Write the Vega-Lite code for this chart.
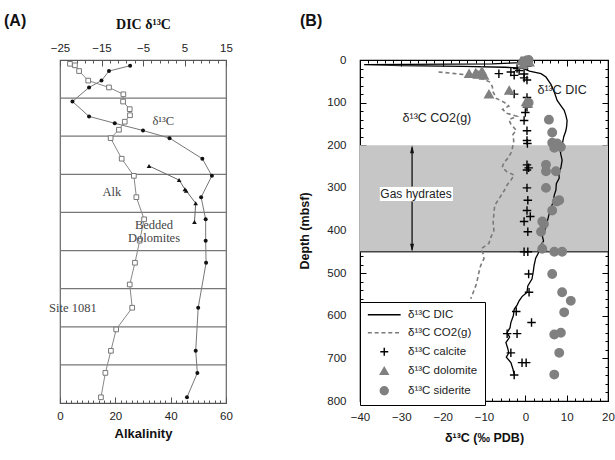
{
  "$schema": "https://vega.github.io/schema/vega-lite/v6.json",
  "padding": {"left": 3, "top": 12, "right": 5, "bottom": 5},
  "spacing": 65,
  "resolve": {"legend": {"shape": "independent", "fill": "independent", "stroke": "independent"}},
  "config": {
    "font": "Liberation Sans",
    "view": {"stroke": null},
    "axis": {"labelFont": "Liberation Sans", "labelFontSize": 11.5, "labelColor": "#222", "titleFont": "Liberation Sans", "titleFontWeight": "bold", "titleFontSize": 12.5, "titleColor": "#111", "grid": false, "domainColor": "#000", "tickColor": "#000", "ticks": true, "tickOpacity": 1, "tickWidth": 1, "labelOverlap": false, "labelFlush": false}
  },
  "hconcat": [
    {
      "width": 166,
      "height": 343,
      "title": {"text": "(A)", "anchor": "start", "frame": "group", "dx": -56, "offset": -12, "fontSize": 16, "fontWeight": "bold", "font": "Liberation Sans", "color": "#111"},
      "view": {"stroke": "#666", "strokeWidth": 1.2},
      "resolve": {"scale": {"x": "independent"}},
      "layer": [
        {
          "data": {"values": [{"u": 1}, {"u": 2}, {"u": 3}, {"u": 4}, {"u": 5}, {"u": 6}, {"u": 7}, {"u": 8}]},
          "mark": {"type": "rule", "color": "#777", "strokeWidth": 1.2},
          "encoding": {"y": {"field": "u", "type": "quantitative", "scale": {"domain": [0, 9], "reverse": true, "nice": false}, "axis": null}}
        },
        {
          "data": {"values": [
            {"u": 0.10, "alk": 3.6}, {"u": 0.14, "alk": 5.4}, {"u": 0.29, "alk": 6.9}, {"u": 0.54, "alk": 10.2}, {"u": 0.72, "alk": 17.7}, {"u": 0.90, "alk": 22.9}, {"u": 1.09, "alk": 22.8}, {"u": 1.29, "alk": 25.2}, {"u": 1.45, "alk": 25.3}, {"u": 1.62, "alk": 23.4}, {"u": 1.83, "alk": 21.3}, {"u": 2.05, "alk": 18.3}, {"u": 2.59, "alk": 22.3}, {"u": 3.04, "alk": 26.7}, {"u": 3.60, "alk": 27.6}, {"u": 4.18, "alk": 30.4}, {"u": 4.74, "alk": 28.8}, {"u": 5.32, "alk": 27.1}, {"u": 5.89, "alk": 25.2}, {"u": 6.50, "alk": 26.1}, {"u": 7.07, "alk": 20.3}, {"u": 7.63, "alk": 18.4}, {"u": 8.21, "alk": 16.4}, {"u": 8.85, "alk": 14.8}
          ]},
          "mark": {"type": "line", "color": "#888", "strokeWidth": 1, "point": {"shape": "square", "filled": true, "fill": "white", "stroke": "#777", "strokeWidth": 1, "size": 22}},
          "encoding": {
            "x": {"field": "alk", "type": "quantitative", "scale": {"domain": [0, 60], "nice": false},
              "axis": {"orient": "bottom", "title": "Alkalinity", "titleFontSize": 13, "titlePadding": 3, "labelOverlap": false, "values": [0,2,4,6,8,10,12,14,16,18,20,22,24,26,28,30,32,34,36,38,40,42,44,46,48,50,52,54,56,58,60], "labelExpr": "datum.value % 20 === 0 ? datum.label : ''", "tickSize": {"condition": {"test": "datum.value % 20 === 0", "value": -6}, "value": -3}, "labelPadding": 13, "domainColor": "#555", "tickColor": "#555"}},
            "y": {"field": "u", "type": "quantitative", "sort": null, "scale": {"domain": [0, 9], "reverse": true, "nice": false}, "axis": null},
            "order": {"field": "u"}
          }
        },
        {
          "data": {"values": [{"v": -25, "u": 0}]},
          "mark": {"type": "point", "opacity": 0},
          "encoding": {
            "x": {"field": "v", "type": "quantitative", "scale": {"domain": [-25, 15], "nice": false},
              "axis": {"orient": "top", "title": "DIC δ¹³C", "titleFont": "Liberation Serif", "titleFontSize": 14, "titlePadding": 8, "labelOverlap": false, "values": [-25,-23,-21,-19,-17,-15,-13,-11,-9,-7,-5,-3,-1,1,3,5,7,9,11,13,15], "labelExpr": "(datum.value + 25) % 10 === 0 ? datum.label : ''", "tickSize": {"condition": {"test": "(datum.value + 25) % 10 === 0", "value": -6}, "value": -3}, "labelPadding": 13, "domainColor": "#555", "tickColor": "#555"}},
            "y": {"field": "u", "type": "quantitative", "scale": {"domain": [0, 9], "reverse": true, "nice": false}, "axis": null}
          }
        },
        {
          "layer": [
            {
              "data": {"values": [
                {"u": 0.15, "v": -8.1}, {"u": 0.29, "v": -13.2}, {"u": 0.54, "v": -15.0}, {"u": 0.72, "v": -18.0}, {"u": 1.09, "v": -22.0}, {"u": 1.48, "v": -18.0}, {"u": 1.66, "v": -11.8}, {"u": 1.85, "v": -5.0}, {"u": 2.05, "v": 1.4}, {"u": 2.59, "v": 9.3}, {"u": 3.04, "v": 11.6}, {"u": 3.60, "v": 9.0}, {"u": 4.18, "v": 10.1}, {"u": 4.74, "v": 10.1}, {"u": 5.32, "v": 10.2}, {"u": 6.50, "v": 8.3}, {"u": 7.63, "v": 7.7}, {"u": 8.21, "v": 8.1}, {"u": 8.85, "v": 5.6}
              ]},
              "mark": {"type": "line", "color": "#777", "strokeWidth": 1, "point": {"shape": "circle", "filled": true, "color": "#111", "size": 16}},
              "encoding": {
                "x": {"field": "v", "type": "quantitative", "scale": {"domain": [-25, 15], "nice": false}, "axis": null},
                "y": {"field": "u", "type": "quantitative", "scale": {"domain": [0, 9], "reverse": true, "nice": false}, "axis": null},
                "order": {"field": "u"}
              }
            },
            {
              "data": {"values": [
                {"u": 2.78, "v": -3.55}, {"u": 3.15, "v": 3.7}, {"u": 3.39, "v": 5.1}, {"u": 3.43, "v": 5.4}, {"u": 3.76, "v": 7.7}, {"u": 4.25, "v": 7.4}
              ]},
              "mark": {"type": "line", "color": "#666", "strokeWidth": 1, "point": {"shape": "triangle-up", "filled": true, "color": "#111", "size": 22}},
              "encoding": {
                "x": {"field": "v", "type": "quantitative", "scale": {"domain": [-25, 15], "nice": false}, "axis": null},
                "y": {"field": "u", "type": "quantitative", "scale": {"domain": [0, 9], "reverse": true, "nice": false}, "axis": null},
                "order": {"field": "u"}
              }
            },
            {
              "data": {"values": [
                {"u": 1.59, "v": -0.1, "t": "δ¹³C", "a": "center"},
                {"u": 3.46, "v": -12.5, "t": "Alk", "a": "center"},
                {"u": 4.34, "v": -2.35, "t": "Bedded", "a": "left"},
                {"u": 4.68, "v": -2.35, "t": "Dolomites", "a": "left"},
                {"u": 6.50, "v": -21.9, "t": "Site 1081", "a": "left"}
              ]},
              "mark": {"type": "text", "font": "Liberation Serif", "fontSize": 12.5, "color": "#444", "baseline": "middle"},
              "encoding": {
                "x": {"field": "v", "type": "quantitative", "scale": {"domain": [-25, 15], "nice": false}, "axis": null},
                "y": {"field": "u", "type": "quantitative", "scale": {"domain": [0, 9], "reverse": true, "nice": false}, "axis": null},
                "text": {"field": "t"},
                "align": {"field": "a", "type": "nominal", "scale": null}
              }
            }
          ]
        }
      ]
    },
    {
      "width": 248,
      "height": 341,
      "title": {"text": "(B)", "anchor": "start", "frame": "group", "dx": -60, "offset": 24, "fontSize": 16, "fontWeight": "bold", "font": "Liberation Sans", "color": "#111"},
      "view": {"stroke": "#000", "strokeWidth": 1.2},
      "resolve": {"scale": {"x": "independent", "y": "independent"}},
      "layer": [
        {
          "layer": [
            {
              "data": {"values": [{"d": 200, "d2": 450}]},
              "mark": {"type": "rect", "color": "#c6c6c6"},
              "encoding": {
                "y": {"field": "d", "type": "quantitative", "scale": {"domain": [0, 800], "reverse": true, "nice": false}, "axis": null},
                "y2": {"field": "d2"}
              }
            },
            {
              "data": {"values": [{"d": 450}]},
              "mark": {"type": "rule", "color": "#444", "strokeWidth": 1.5},
              "encoding": {
                "y": {"field": "d", "type": "quantitative", "scale": {"domain": [0, 800], "reverse": true, "nice": false}, "axis": null}
              }
            },
            {
              "data": {"values": [
                {"d": 28, "v": -21}, {"d": 31, "v": -18}, {"d": 34, "v": -15}, {"d": 38, "v": -12}, {"d": 44, "v": -10.5}, {"d": 52, "v": -8.5}, {"d": 62, "v": -8}, {"d": 75, "v": -7.8}, {"d": 90, "v": -7}, {"d": 100, "v": -5}, {"d": 108, "v": -4}, {"d": 116, "v": -5.5}, {"d": 125, "v": -4.5}, {"d": 132, "v": -2}, {"d": 140, "v": -4}, {"d": 150, "v": -3.5}, {"d": 165, "v": -2.2}, {"d": 175, "v": -3}, {"d": 190, "v": -2.8}, {"d": 200, "v": -3}, {"d": 215, "v": -3.3}, {"d": 230, "v": -4.2}, {"d": 241, "v": -5.2}, {"d": 252, "v": -5.6}, {"d": 262, "v": -4.5}, {"d": 270, "v": -2.7}, {"d": 282, "v": -3.5}, {"d": 293, "v": -4.4}, {"d": 308, "v": -5.2}, {"d": 320, "v": -6}, {"d": 341, "v": -7.4}, {"d": 360, "v": -7.6}, {"d": 380, "v": -7.8}, {"d": 400, "v": -7.6}, {"d": 415, "v": -8.3}, {"d": 430, "v": -8.8}, {"d": 443, "v": -10.7}, {"d": 455, "v": -10.2}, {"d": 466, "v": -10}, {"d": 482, "v": -10.8}, {"d": 497, "v": -11.2}, {"d": 515, "v": -11.6}, {"d": 530, "v": -12}, {"d": 545, "v": -12.6}, {"d": 560, "v": -13.2}
              ]},
              "mark": {"type": "line", "color": "#7a7a7a", "strokeWidth": 1.6, "strokeDash": [4, 3]},
              "encoding": {
                "x": {"field": "v", "type": "quantitative", "scale": {"domain": [-40, 20], "nice": false}, "axis": null},
                "y": {"field": "d", "type": "quantitative", "scale": {"domain": [0, 800], "reverse": true, "nice": false}, "axis": null},
                "order": {"field": "d"}
              }
            },
            {
              "data": {"values": [
                {"d": 0, "v": -0.5}, {"d": 6, "v": -1}, {"d": 9, "v": -8}, {"d": 11, "v": -39}, {"d": 13, "v": -30}, {"d": 15, "v": -15}, {"d": 17, "v": -5}, {"d": 19, "v": -1}, {"d": 22, "v": 0}, {"d": 26, "v": 1}, {"d": 32, "v": 3.8}, {"d": 40, "v": 5}, {"d": 57, "v": 6.2}, {"d": 75, "v": 7}, {"d": 95, "v": 7.7}, {"d": 110, "v": 8.8}, {"d": 118, "v": 9.4}, {"d": 130, "v": 9.8}, {"d": 142, "v": 10.1}, {"d": 155, "v": 10}, {"d": 166, "v": 9.8}, {"d": 180, "v": 9.3}, {"d": 199, "v": 8.9}, {"d": 210, "v": 8.4}, {"d": 222, "v": 8.6}, {"d": 235, "v": 8.9}, {"d": 253, "v": 8.6}, {"d": 265, "v": 8.1}, {"d": 277, "v": 8.2}, {"d": 290, "v": 7.5}, {"d": 305, "v": 7.4}, {"d": 317, "v": 7.0}, {"d": 330, "v": 6.8}, {"d": 348, "v": 6.2}, {"d": 360, "v": 5.8}, {"d": 379, "v": 5.3}, {"d": 395, "v": 4.9}, {"d": 412, "v": 4.1}, {"d": 425, "v": 4.4}, {"d": 440, "v": 3.3}, {"d": 450, "v": 3.3}, {"d": 465, "v": 2.5}, {"d": 483, "v": 2.1}, {"d": 498, "v": 1.9}, {"d": 514, "v": 1.6}, {"d": 530, "v": 0.6}, {"d": 545, "v": 0.4}, {"d": 555, "v": -0.8}, {"d": 565, "v": -1.5}, {"d": 575, "v": -2}, {"d": 585, "v": -2.7}, {"d": 600, "v": -2.9}, {"d": 616, "v": -3.5}, {"d": 628, "v": -3.7}, {"d": 640, "v": -4.4}, {"d": 650, "v": -3.8}, {"d": 663, "v": -4.7}, {"d": 675, "v": -4.3}, {"d": 687, "v": -4.0}, {"d": 697, "v": -4.6}, {"d": 710, "v": -3.5}, {"d": 725, "v": -3.0}, {"d": 738, "v": -2.7}
              ]},
              "mark": {"type": "line", "color": "#000", "strokeWidth": 1.3},
              "encoding": {
                "x": {"field": "v", "type": "quantitative", "scale": {"domain": [-40, 20], "nice": false}, "axis": null},
                "y": {"field": "d", "type": "quantitative", "scale": {"domain": [0, 800], "reverse": true, "nice": false}, "axis": null},
                "order": {"field": "d"}
              }
            },
            {
              "data": {"values": [{"v1": -35.2, "v2": -17.5, "d1": 298, "d2": 331}]},
              "mark": {"type": "rect", "color": "white"},
              "encoding": {
                "x": {"field": "v1", "type": "quantitative", "scale": {"domain": [-40, 20], "nice": false}, "axis": null},
                "x2": {"field": "v2"},
                "y": {"field": "d1", "type": "quantitative", "scale": {"domain": [0, 800], "reverse": true, "nice": false}, "axis": null},
                "y2": {"field": "d2"}
              }
            },
            {
              "data": {"values": [{"v": -27.4, "d1": 205, "d2": 297}, {"v": -27.4, "d1": 332, "d2": 445}]},
              "mark": {"type": "rule", "color": "#111", "strokeWidth": 1.3},
              "encoding": {
                "x": {"field": "v", "type": "quantitative", "scale": {"domain": [-40, 20], "nice": false}, "axis": null},
                "y": {"field": "d1", "type": "quantitative", "scale": {"domain": [0, 800], "reverse": true, "nice": false}, "axis": null},
                "y2": {"field": "d2"}
              }
            },
            {
              "data": {"values": [{"v": -27.4, "d": 209.5}]},
              "mark": {"type": "point", "filled": true, "color": "#111", "size": 64, "opacity": 1, "shape": "M0,-1L0.5,1L-0.5,1Z"},
              "encoding": {
                "x": {"field": "v", "type": "quantitative", "scale": {"domain": [-40, 20], "nice": false}, "axis": null},
                "y": {"field": "d", "type": "quantitative", "scale": {"domain": [0, 800], "reverse": true, "nice": false}, "axis": null}
              }
            },
            {
              "data": {"values": [{"v": -27.4, "d": 440.5}]},
              "mark": {"type": "point", "filled": true, "color": "#111", "size": 64, "opacity": 1, "shape": "M0,1L0.5,-1L-0.5,-1Z"},
              "encoding": {
                "x": {"field": "v", "type": "quantitative", "scale": {"domain": [-40, 20], "nice": false}, "axis": null},
                "y": {"field": "d", "type": "quantitative", "scale": {"domain": [0, 800], "reverse": true, "nice": false}, "axis": null}
              }
            },
            {
              "data": {"values": [
                {"v": -26.45, "d": 315, "t": "Gas hydrates", "a": "center", "fs": 12},
                {"v": 8.9, "d": 71, "t": "δ¹³C DIC", "a": "left", "fs": 12.5},
                {"v": -21.4, "d": 135, "t": "δ¹³C CO2(g)", "a": "left", "fs": 12.5}
              ]},
              "mark": {"type": "text", "font": "Liberation Sans", "color": "#222", "baseline": "middle"},
              "encoding": {
                "x": {"field": "v", "type": "quantitative", "scale": {"domain": [-40, 20], "nice": false}, "axis": null},
                "y": {"field": "d", "type": "quantitative", "scale": {"domain": [0, 800], "reverse": true, "nice": false}, "axis": null},
                "text": {"field": "t"},
                "align": {"field": "a", "type": "nominal", "scale": null},
                "size": {"field": "fs", "type": "quantitative", "scale": null}
              }
            },
            {
              "data": {"values": [
                {"s": "calcite", "d": 3, "v": 0}, {"s": "calcite", "d": 8, "v": -1}, {"s": "calcite", "d": 14, "v": 0.5}, {"s": "calcite", "d": 20, "v": -2}, {"s": "calcite", "d": 25, "v": -1.5}, {"s": "calcite", "d": 28, "v": -3.5}, {"s": "calcite", "d": 32, "v": -6.4}, {"s": "calcite", "d": 36, "v": -2.7}, {"s": "calcite", "d": 33, "v": -0.3}, {"s": "calcite", "d": 42, "v": -0.3}, {"s": "calcite", "d": 47, "v": 0.4}, {"s": "calcite", "d": 80, "v": -2.7}, {"s": "calcite", "d": 88, "v": 0.4}, {"s": "calcite", "d": 111, "v": 0.4}, {"s": "calcite", "d": 123, "v": 0.0}, {"s": "calcite", "d": 142, "v": -0.3}, {"s": "calcite", "d": 166, "v": 0.4}, {"s": "calcite", "d": 189, "v": 0.4}, {"s": "calcite", "d": 196, "v": 0.5}, {"s": "calcite", "d": 246, "v": 0.4}, {"s": "calcite", "d": 253, "v": 0.8}, {"s": "calcite", "d": 258, "v": 0.4}, {"s": "calcite", "d": 300, "v": 0.4}, {"s": "calcite", "d": 329, "v": 0.6}, {"s": "calcite", "d": 353, "v": 0.4}, {"s": "calcite", "d": 367, "v": 1.2}, {"s": "calcite", "d": 379, "v": -0.3}, {"s": "calcite", "d": 403, "v": 0.6}, {"s": "calcite", "d": 450, "v": -0.3}, {"s": "calcite", "d": 450, "v": 0.6}, {"s": "calcite", "d": 502, "v": 0.8}, {"s": "calcite", "d": 545, "v": 0.9}, {"s": "calcite", "d": 590, "v": -2.2}, {"s": "calcite", "d": 616, "v": 1.5}, {"s": "calcite", "d": 642, "v": -4.4}, {"s": "calcite", "d": 642, "v": -2.0}, {"s": "calcite", "d": 687, "v": -3.5}, {"s": "calcite", "d": 710, "v": -0.8}, {"s": "calcite", "d": 710, "v": 0.2}, {"s": "calcite", "d": 739, "v": -2.7},
                {"s": "dolomite", "d": 0, "v": 0}, {"s": "dolomite", "d": 2, "v": -1}, {"s": "dolomite", "d": 5, "v": 1}, {"s": "dolomite", "d": 10, "v": -0.5}, {"s": "dolomite", "d": 26, "v": -10.5}, {"s": "dolomite", "d": 30, "v": -12}, {"s": "dolomite", "d": 32, "v": -13.6}, {"s": "dolomite", "d": 34, "v": -11.5}, {"s": "dolomite", "d": 36, "v": -10}, {"s": "dolomite", "d": 71, "v": -3.9}, {"s": "dolomite", "d": 80, "v": -8.8}, {"s": "dolomite", "d": 98, "v": 0.2}, {"s": "dolomite", "d": 102, "v": 0.6}, {"s": "dolomite", "d": 438, "v": 4.1},
                {"s": "siderite", "d": 0, "v": 0.8}, {"s": "siderite", "d": 3, "v": -0.3}, {"s": "siderite", "d": 100, "v": 0.8}, {"s": "siderite", "d": 140, "v": 5.7}, {"s": "siderite", "d": 170, "v": 6.5}, {"s": "siderite", "d": 194, "v": 6.5}, {"s": "siderite", "d": 196, "v": 7.7}, {"s": "siderite", "d": 204, "v": 8.6}, {"s": "siderite", "d": 206, "v": 7.0}, {"s": "siderite", "d": 246, "v": 5.0}, {"s": "siderite", "d": 261, "v": 5.0}, {"s": "siderite", "d": 261, "v": 7.4}, {"s": "siderite", "d": 300, "v": 5.0}, {"s": "siderite", "d": 329, "v": 8.2}, {"s": "siderite", "d": 332, "v": 7.6}, {"s": "siderite", "d": 353, "v": 6.5}, {"s": "siderite", "d": 379, "v": 4.1}, {"s": "siderite", "d": 385, "v": 4.5}, {"s": "siderite", "d": 403, "v": 3.8}, {"s": "siderite", "d": 443, "v": 4.1}, {"s": "siderite", "d": 450, "v": 7.0}, {"s": "siderite", "d": 450, "v": 8.9}, {"s": "siderite", "d": 502, "v": 6.5}, {"s": "siderite", "d": 545, "v": 8.9}, {"s": "siderite", "d": 565, "v": 11}, {"s": "siderite", "d": 592, "v": 9.4}, {"s": "siderite", "d": 640, "v": 8.6}, {"s": "siderite", "d": 644, "v": 7.0}, {"s": "siderite", "d": 687, "v": 8.2}, {"s": "siderite", "d": 738, "v": 7.0}
              ]},
              "mark": {"type": "point", "filled": true, "size": 72, "strokeWidth": 1.4, "opacity": 1},
              "encoding": {
                "x": {"field": "v", "type": "quantitative", "scale": {"domain": [-40, 20], "nice": false}, "axis": null},
                "y": {"field": "d", "type": "quantitative", "scale": {"domain": [0, 800], "reverse": true, "nice": false}, "axis": null},
                "shape": {"field": "s", "type": "nominal", "scale": {"domain": ["DIC", "CO2", "calcite", "dolomite", "siderite"], "range": ["M-4.1,0H4.1", "M-4.1,0H-3.1M-2.4,0H-1.4M-0.7,0H0.3M1,0H2M2.7,0H3.7", "M-1,0H1M0,-1V1", "triangle-up", "circle"]},
                  "legend": {"orient": "none", "legendX": 0, "legendY": 242, "title": null, "strokeColor": "#000", "fillColor": "white", "padding": 7, "symbolSize": 64, "symbolOffset": 11.5, "labelOffset": 18, "rowPadding": 5, "labelFontSize": 11.5, "labelFont": "Liberation Sans", "labelColor": "#222", "symbolStrokeWidth": 1.4,
                    "labelExpr": "{'DIC': 'δ¹³C DIC', 'CO2': 'δ¹³C CO2(g)', 'calcite': 'δ¹³C calcite', 'dolomite': 'δ¹³C dolomite', 'siderite': 'δ¹³C siderite'}[datum.label]"}},
                "fill": {"field": "s", "type": "nominal", "scale": {"domain": ["DIC", "CO2", "calcite", "dolomite", "siderite"], "range": ["transparent", "transparent", "transparent", "#808080", "#808080"]},
                  "legend": {"orient": "none", "legendX": 0, "legendY": 242, "title": null, "strokeColor": "#000", "fillColor": "white", "padding": 7, "symbolSize": 64, "symbolOffset": 11.5, "labelOffset": 18, "rowPadding": 5, "labelFontSize": 11.5, "labelFont": "Liberation Sans", "labelColor": "#222", "symbolStrokeWidth": 1.4,
                    "labelExpr": "{'DIC': 'δ¹³C DIC', 'CO2': 'δ¹³C CO2(g)', 'calcite': 'δ¹³C calcite', 'dolomite': 'δ¹³C dolomite', 'siderite': 'δ¹³C siderite'}[datum.label]"}},
                "stroke": {"field": "s", "type": "nominal", "scale": {"domain": ["DIC", "CO2", "calcite", "dolomite", "siderite"], "range": ["#000", "#7a7a7a", "#000", "#808080", "#808080"]},
                  "legend": {"orient": "none", "legendX": 0, "legendY": 242, "title": null, "strokeColor": "#000", "fillColor": "white", "padding": 7, "symbolSize": 64, "symbolOffset": 11.5, "labelOffset": 18, "rowPadding": 5, "labelFontSize": 11.5, "labelFont": "Liberation Sans", "labelColor": "#222", "symbolStrokeWidth": 1.4,
                    "labelExpr": "{'DIC': 'δ¹³C DIC', 'CO2': 'δ¹³C CO2(g)', 'calcite': 'δ¹³C calcite', 'dolomite': 'δ¹³C dolomite', 'siderite': 'δ¹³C siderite'}[datum.label]"}}
              }
            }
          ]
        },
        {
          "data": {"values": [{"v": -40, "d": 0}]},
          "mark": {"type": "point", "opacity": 0},
          "encoding": {
            "x": {"field": "v", "type": "quantitative", "scale": {"domain": [-40, 20], "nice": false},
              "axis": {"orient": "bottom", "title": "δ¹³C (‰ PDB)", "titlePadding": 6, "labelOverlap": false, "values": [-40,-38,-36,-34,-32,-30,-28,-26,-24,-22,-20,-18,-16,-14,-12,-10,-8,-6,-4,-2,0,2,4,6,8,10,12,14,16,18,20], "labelExpr": "datum.value % 10 === 0 ? datum.label : ''", "tickSize": {"condition": {"test": "datum.value % 10 === 0", "value": -6}, "value": -3}, "labelPadding": 16}},
            "y": {"field": "d", "type": "quantitative", "scale": {"domain": [0, 800], "reverse": true, "nice": false},
              "axis": {"orient": "left", "title": "Depth (mbsf)", "titlePadding": 15, "labelOverlap": false, "values": [0,20,40,60,80,100,120,140,160,180,200,220,240,260,280,300,320,340,360,380,400,420,440,460,480,500,520,540,560,580,600,620,640,660,680,700,720,740,760,780,800], "labelExpr": "datum.value % 100 === 0 ? datum.label : ''", "tickSize": {"condition": {"test": "datum.value % 100 === 0", "value": -6}, "value": -3}, "labelPadding": 20}}
          }
        },
        {
          "data": {"values": [{"v": -40, "d": 0}]},
          "mark": {"type": "point", "opacity": 0},
          "encoding": {
            "x": {"field": "v", "type": "quantitative", "scale": {"domain": [-40, 20], "nice": false},
              "axis": {"orient": "top", "title": null, "labels": false, "values": [-40,-38,-36,-34,-32,-30,-28,-26,-24,-22,-20,-18,-16,-14,-12,-10,-8,-6,-4,-2,0,2,4,6,8,10,12,14,16,18,20], "tickSize": {"condition": {"test": "datum.value % 10 === 0", "value": -6}, "value": -3}}},
            "y": {"field": "d", "type": "quantitative", "scale": {"domain": [0, 800], "reverse": true, "nice": false},
              "axis": {"orient": "right", "title": null, "labels": false, "values": [0,20,40,60,80,100,120,140,160,180,200,220,240,260,280,300,320,340,360,380,400,420,440,460,480,500,520,540,560,580,600,620,640,660,680,700,720,740,760,780,800], "tickSize": {"condition": {"test": "datum.value % 100 === 0", "value": -6}, "value": -3}}}
          }
        }
      ]
    }
  ]
}
